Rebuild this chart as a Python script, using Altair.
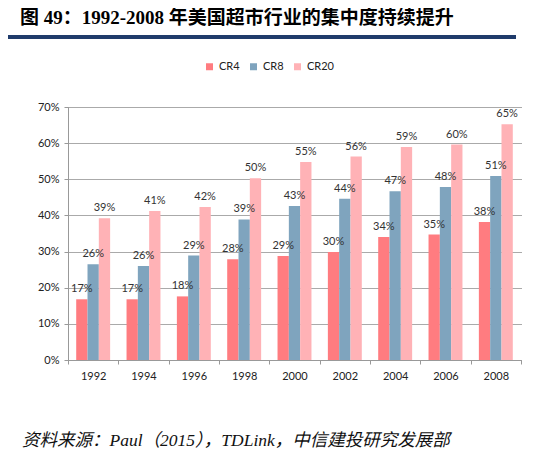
import altair as alt
import pandas as pd

years = ["1992", "1994", "1996", "1998", "2000", "2002", "2004", "2006", "2008"]
series = ["CR4", "CR8", "CR20"]
cr4 = [0.168, 0.168, 0.176, 0.279, 0.288, 0.299, 0.340, 0.347, 0.382]
cr8 = [0.265, 0.260, 0.289, 0.389, 0.426, 0.446, 0.467, 0.479, 0.509]
cr20 = [0.392, 0.412, 0.423, 0.503, 0.548, 0.563, 0.589, 0.596, 0.652]
cr4_labels = ["17%", "17%", "18%", "28%", "29%", "30%", "34%", "35%", "38%"]
cr8_labels = ["26%", "26%", "29%", "39%", "43%", "44%", "47%", "48%", "51%"]
cr20_labels = ["39%", "41%", "42%", "50%", "55%", "56%", "59%", "60%", "65%"]
colors = ["#FF7C80", "#7FA4BE", "#FFB2B6"]

title_text = "图 49：1992-2008 年美国超市行业的集中度持续提升"
source_text = "资料来源：Paul（2015），TDLink，中信建投研究发展部"

rows = []
for vals, labs, s in [(cr4, cr4_labels, "CR4"), (cr8, cr8_labels, "CR8"), (cr20, cr20_labels, "CR20")]:
    for y, v, l in zip(years, vals, labs):
        rows.append({"year": y, "series": s, "value": v, "label": l})
df = pd.DataFrame(rows)

FONT = "Lato"
x_enc = alt.X(
    "year:N",
    sort=years,
    title=None,
    scale=alt.Scale(paddingInner=0, paddingOuter=0),
    axis=alt.Axis(
        tickBand="extent", labelAngle=0, labelFontSize=11, labelColor="#222",
        labelFont=FONT, labelPadding=6, tickSize=4, tickColor="#999",
        domainColor="#999", grid=False,
    ),
)
xoff = alt.XOffset(
    "series:N", sort=series,
    scale=alt.Scale(domain=series, paddingInner=0, paddingOuter=0.725),
)
y_enc = alt.Y(
    "value:Q",
    title=None,
    scale=alt.Scale(domain=[0, 0.7], nice=False),
    axis=alt.Axis(
        format=".0%", values=[0, 0.1, 0.2, 0.3, 0.4, 0.5, 0.6, 0.7],
        labelFontSize=11, labelColor="#222", labelFont=FONT, labelPadding=5,
        tickSize=4, tickColor="#999", domainColor="#999",
        grid=True, gridColor="#555", gridDash=[1, 1], gridWidth=1,
    ),
)

bars = alt.Chart(df).mark_bar().encode(
    x=x_enc,
    xOffset=xoff,
    y=y_enc,
    color=alt.Color(
        "series:N",
        sort=series,
        scale=alt.Scale(domain=series, range=colors),
        legend=alt.Legend(
            title=None, orient="none", direction="horizontal",
            legendX=136, legendY=-46, symbolType="square", symbolSize=49,
            symbolStrokeWidth=0, labelFontSize=11, labelFont=FONT,
            labelColor="#222", labelOffset=4, columnPadding=8,
        ),
    ),
)

labels = alt.Chart(df).mark_text(
    baseline="bottom", dy=-5, fontSize=11, font=FONT, color="#333"
).encode(x=x_enc, xOffset=xoff, y=y_enc, text="label:N")

deco = pd.DataFrame({"t": [title_text], "s": [source_text]})
title_mark = alt.Chart(deco).mark_text(
    align="left", baseline="middle", fontSize=19, fontWeight="bold",
    font="Liberation Serif, Noto Sans CJK SC", color="#000",
).encode(x=alt.value(-48), y=alt.value(-89), text="t:N")
rule = alt.Chart(deco).mark_rule(color="#1F3B6B", strokeWidth=4).encode(
    x=alt.value(-62), x2=alt.value(448), y=alt.value(-70)
)
source_mark = alt.Chart(deco).mark_text(
    align="left", baseline="middle", fontSize=17.5, fontStyle="italic",
    font="Liberation Serif, Noto Sans CJK SC", color="#111",
).encode(x=alt.value(-46), y=alt.value(334), text="s:N")

chart = alt.layer(bars, labels, title_mark, rule, source_mark).properties(
    width=453,
    height=253,
    autosize=alt.AutoSizeParams(type="none"),
    padding={"left": 60, "top": 99, "right": 20, "bottom": 95},
).configure_view(stroke=None)

chart.save("out.html", embed_options={"renderer": "svg", "actions": False})
